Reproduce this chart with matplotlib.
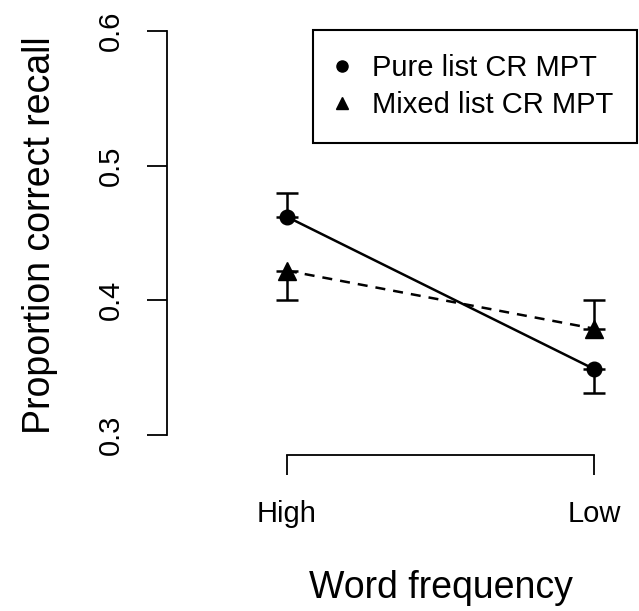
import matplotlib
matplotlib.use('Agg')
import matplotlib.pyplot as plt
from matplotlib.lines import Line2D

# Data.
conditions = ['High', 'Low']
pure_mean = [0.462, 0.349]
pure_err_low = [0.0, 0.018]
pure_err_high = [0.018, 0.0]
mixed_mean = [0.422, 0.379]
mixed_err_low = [0.022, 0.0]
mixed_err_high = [0.0, 0.021]
y_ticks = [0.3, 0.4, 0.5, 0.6]
legend_labels = ['Pure list CR MPT', 'Mixed list CR MPT']

plt.rcParams['font.family'] = ['Liberation Sans', 'DejaVu Sans']

W, H = 639, 611
fig = plt.figure(figsize=(W / 100, H / 100), dpi=100)

# Plot region in pixels (left, top, right, bottom); the right part is cut off
# by the figure edge, as in the reference.
left, top, right, bottom = 167, 15, 714, 455
ax = fig.add_axes([left / W, 1 - bottom / H, (right - left) / W, (bottom - top) / H])

x = [1, 2]
ax.errorbar(x, pure_mean, yerr=[pure_err_low, pure_err_high], color='black',
            linestyle='-', linewidth=1.8, marker='o', markersize=10.5,
            capsize=8, elinewidth=1.8, capthick=1.8)
ax.errorbar(x, mixed_mean, yerr=[mixed_err_low, mixed_err_high], color='black',
            linestyle=(0, (4, 3.2)), linewidth=1.8, marker='^', markersize=12.5,
            capsize=8, elinewidth=1.8, capthick=1.8)

ax.set_xlim(1 - 120 / 307, 2 + 120 / 307)
ax.set_ylim(0.3 - 20 / 1346.7, 0.6 + 16 / 1346.7)

for s in ['top', 'right']:
    ax.spines[s].set_visible(False)
ax.spines['left'].set_bounds(0.3, 0.6)
ax.spines['bottom'].set_bounds(1, 2)
ax.spines['left'].set_linewidth(1.3)
ax.spines['bottom'].set_linewidth(1.3)

ax.set_xticks(x)
ax.set_xticklabels(conditions, fontsize=21)
ax.set_yticks(y_ticks)
ax.set_yticklabels([f'{t:.1f}' for t in y_ticks], rotation=90, va='center', fontsize=21)
ax.tick_params(axis='both', direction='out', length=14.4, width=1.3)
ax.tick_params(axis='y', pad=16)
ax.tick_params(axis='x', pad=18)

ax.set_xlabel('Word frequency', fontsize=27, labelpad=30)
ax.set_ylabel('Proportion correct recall', fontsize=27, labelpad=28)

handles = [Line2D([], [], color='black', marker='o', linestyle='none', markersize=8),
           Line2D([], [], color='black', marker='^', linestyle='none', markersize=9)]
leg = ax.legend(handles, legend_labels, loc='upper right',
                bbox_to_anchor=(637 / W, 1 - 30 / H), bbox_transform=fig.transFigure,
                fancybox=False, framealpha=1, edgecolor='black', fontsize=21,
                borderpad=0.82, handlelength=0.34, handletextpad=0.86,
                labelspacing=0.32, borderaxespad=0)
leg.get_frame().set_linewidth(1.5)

fig.savefig('out.png', dpi=100)
